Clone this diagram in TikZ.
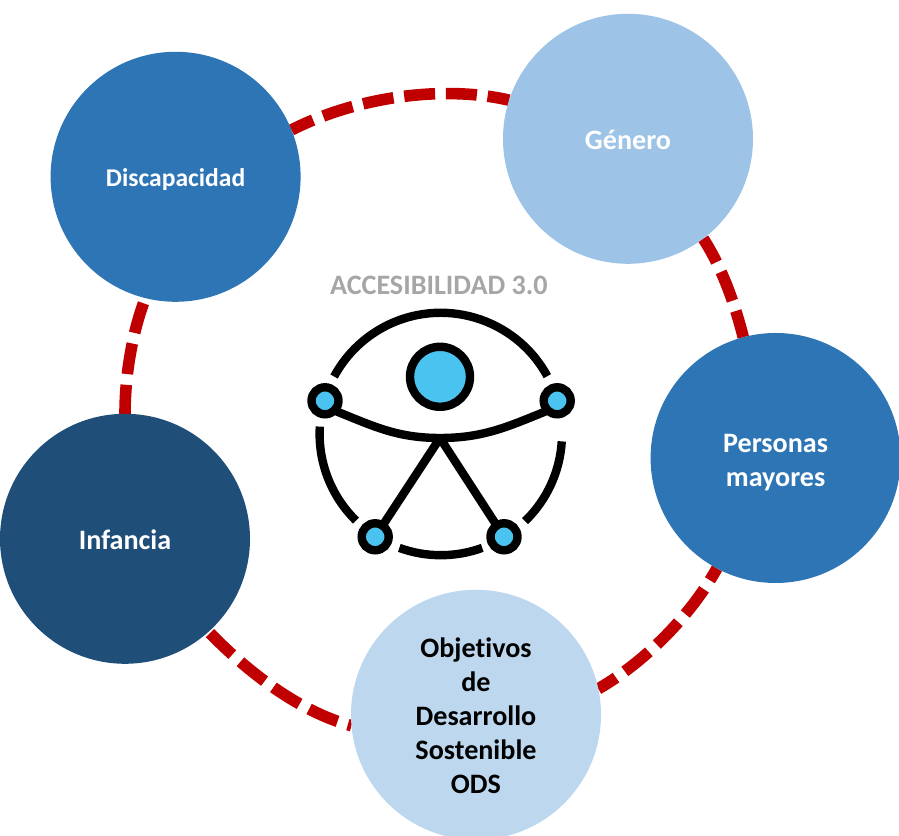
\documentclass[tikz,border=0pt]{standalone}
\usepackage{fontspec}
\setmainfont[Ligatures=CommonOff]{Carlito}
\usetikzlibrary{backgrounds,calc}
\definecolor{blueMid}{HTML}{2E75B6}
\definecolor{blueLight}{HTML}{9DC3E6}
\definecolor{bluePale}{HTML}{BDD7EE}
\definecolor{blueDark}{HTML}{1F4E79}
\definecolor{ringRed}{HTML}{C00000}
\definecolor{iconBlue}{HTML}{4BC3F0}
\tikzset{
	theme/.style={circle, minimum size=6.25cm, inner sep=0pt, outer sep=0pt, align=center, font=\bfseries\fontsize{20}{24.2}\selectfont},
	ringlink/.style={line width=0.29cm, color=ringRed, looseness=0.82},
	joint/.style={circle, draw=black, line width=0.21cm, fill=iconBlue, minimum size=0.675cm, inner sep=0pt, outer sep=0pt},
	limb/.style={line width=0.21cm, color=black}
}
\def\iconarc(#1:#2){\draw[limb] ($(iconc)+(#1:3.03)$) arc (#1:#2:3.03);}
\def\toppad#1{\rule{0pt}{#1em}}

\begin{document}
\begin{tikzpicture}
		%%%%% FRAME %%%%%
		\useasboundingbox (0, 0) rectangle (22.475, 20.9);
		
		%%%%% THEMES %%%%%
		\node[theme, fill=blueMid, text=white, font=\bfseries\fontsize{18.2}{24.2}\selectfont] (disc) at (4.39, 16.48) {\toppad{0.95}Discapacidad};
		\node[theme, fill=blueLight, text=white] (gen) at (15.7, 17.43) {\toppad{0.8}Género};
		\node[theme, fill=blueMid, text=white] (mayores) at (19.39, 9.45) {\toppad{0.95}Personas\\mayores};
		\node[theme, fill=bluePale, text=black] (ods) at (11.9, 3.03) {\toppad{0.78}Objetivos\\de\\Desarrollo\\Sostenible\\ODS};
		\node[theme, fill=blueDark, text=white] (inf) at (3.125, 7.43) {\toppad{0.8}Infancia};
		
		\begin{scope}[on background layer]
			\draw[ringlink, dash pattern=on 0.775cm off 0.27cm, dash phase=0.18cm] (disc.22) to[out=27, in=167] (gen.162);
			\draw[ringlink, dash pattern=on 0.775cm off 0.27cm, dash phase=0.1cm] (gen.-53) to[out=-57, in=104] (mayores.105);
			\draw[ringlink, dash pattern=on 0.775cm off 0.27cm, dash phase=0.43cm] (mayores.242) to[out=-119, in=30] (ods.12);
			\draw[ringlink, dash pattern=on 0.775cm off 0.27cm, dash phase=0.68cm] (ods.185) to[out=165, in=-46] (inf.-48);
			\draw[ringlink, dash pattern=on 0.775cm off 0.27cm, dash phase=0.05cm] (inf.90) to[out=90, in=249] (disc.256);
		\end{scope}
		
		%%%%% ICON %%%%%
		\node[font=\bfseries\fontsize{20}{24}\selectfont, text=black!35] (title) at (10.97, 13.76) {ACCESIBILIDAD 3.0};
		
		\coordinate (iconc) at (11.02, 10.05);
		\iconarc(28.5:151.7);
		\iconarc(176.5:225.6);
		\iconarc(250:290);
		\iconarc(-46:-3.5);
		
		\node[joint, minimum size=1.5cm] (head) at (11, 11.48) {};
		\node[joint] (armL) at (8.125, 10.88) {};
		\node[joint] (armR) at (13.93, 10.88) {};
		\node[joint] (footL) at (9.38, 7.48) {};
		\node[joint] (footR) at (12.6, 7.48) {};
		\coordinate (hip) at (11, 9.95);
		
		\draw[limb] (armL.-46) to[out=-22, in=180] (hip) to[out=0, in=202] (armR.226);
		\draw[limb] (hip) -- (footL);
		\draw[limb] (hip) -- (footR);
		
		%%%%% END %%%%%
	\end{tikzpicture}
\end{document}
